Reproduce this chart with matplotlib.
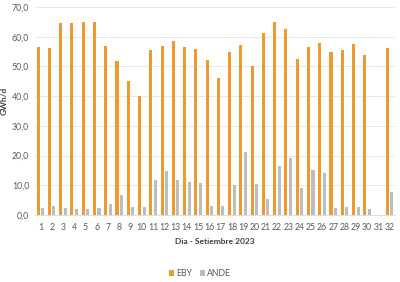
import matplotlib.pyplot as plt
import numpy as np

plt.rcParams['font.family'] = ['Lato', 'DejaVu Sans']

# data (day 31 has no values)
days = [str(d) for d in range(1, 33)]
eby = [56.6, 56.1, 64.7, 64.6, 64.8, 64.8, 57.0, 51.9, 45.1, 39.9,
       55.5, 57.0, 58.5, 56.7, 55.8, 52.3, 46.1, 54.9, 57.2, 50.3,
       61.3, 64.8, 62.5, 52.5, 56.7, 57.8, 55.0, 55.7, 57.4, 53.8,
       0.0, 56.3]
ande = [2.4, 2.9, 2.4, 2.1, 2.1, 2.4, 3.8, 6.6, 2.7, 2.7,
        11.9, 14.7, 11.8, 11.1, 10.7, 2.9, 2.9, 9.9, 21.2, 10.5,
        5.3, 16.4, 19.2, 9.2, 15.0, 14.2, 2.4, 2.5, 2.5, 2.1,
        0.0, 7.6]
yticks = [0, 10, 20, 30, 40, 50, 60, 70]

fig = plt.figure(figsize=(4, 2.82), dpi=100)
ax = fig.add_axes([0.087, 0.238, 0.901, 0.737])

x = np.arange(len(days))
w = 0.27
ax.bar(x - 0.2, eby, w, color='#EE9A2E', label='EBY', zorder=2)
ax.bar(x + 0.2, ande, w, color='#BDBDBD', label='ANDE', zorder=2)

ax.set_xlim(-0.5, len(days) - 0.5)
ax.set_ylim(0, 70)
ax.set_yticks(yticks)
ax.set_yticklabels([f'{v:.1f}'.replace('.', ',') for v in yticks])
ax.set_xticks(x)
ax.set_xticklabels(days)
ax.tick_params(length=0, labelsize=6.3, colors='#595959')
ax.tick_params(axis='y', pad=4)
ax.tick_params(axis='x', pad=6)
ax.grid(axis='y', color='#E4E4E4', linewidth=0.6, zorder=0)
for s in ax.spines.values():
    s.set_visible(False)
ax.spines['bottom'].set_visible(True)
ax.spines['bottom'].set_color('#D9D9D9')
ax.spines['bottom'].set_linewidth(0.6)

ax.set_xlabel('Dia - Setiembre 2023', fontsize=6, fontweight='bold',
              color='#404040', labelpad=4)
ax.set_ylabel('GWh/d', fontsize=6, fontweight='bold', color='#404040')
ax.yaxis.set_label_coords(-0.075, 0.55)

fig.legend(loc='center', bbox_to_anchor=(0.5, 0.03), ncol=2, frameon=False,
           fontsize=6.3, handlelength=0.6, handleheight=0.6,
           handletextpad=0.3, columnspacing=0.8, labelcolor='#595959')

fig.savefig('out.png', dpi=100)
